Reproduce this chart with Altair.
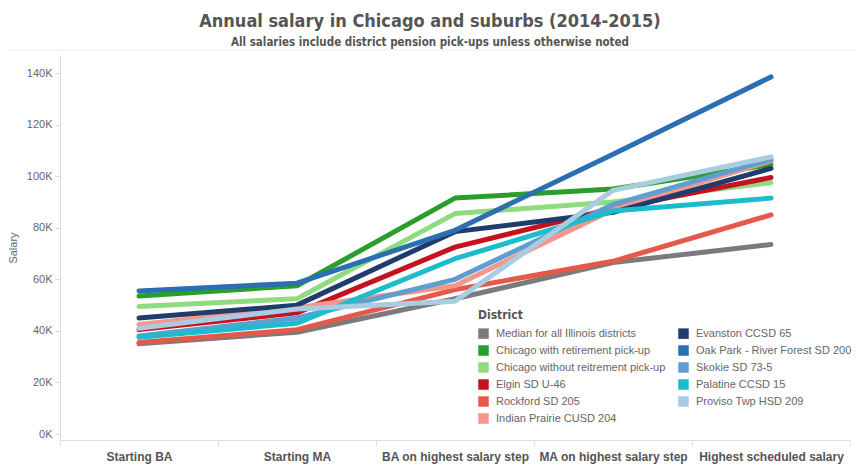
import altair as alt
import pandas as pd

stages = ["Starting BA", "Starting MA", "BA on highest salary step",
          "MA on highest salary step", "Highest scheduled salary"]

# values in thousands of dollars
median_all = [35.0, 39.5, 52.5, 66.5, 73.5]
chicago_with = [53.5, 57.5, 91.5, 95.0, 104.5]
chicago_without = [49.5, 52.5, 85.5, 90.0, 97.5]
elgin = [40.5, 47.0, 72.5, 87.5, 99.5]
rockford = [35.5, 40.5, 56.0, 67.0, 85.0]
indian_prairie = [42.5, 49.0, 57.5, 87.0, 106.0]
evanston = [45.0, 50.0, 78.5, 86.0, 103.0]
oak_park = [55.5, 58.5, 79.0, 108.5, 138.5]
skokie = [38.0, 45.0, 60.0, 89.0, 106.5]
palatine = [37.5, 43.0, 68.0, 86.5, 91.5]
proviso = [41.0, 48.5, 51.5, 94.5, 107.5]

districts = ["Median for all Illinois districts", "Chicago with retirement pick-up",
             "Chicago without reitrement pick-up", "Elgin SD U-46", "Rockford SD 205",
             "Indian Prairie CUSD 204", "Evanston CCSD 65", "Oak Park - River Forest SD 200",
             "Skokie SD 73-5", "Palatine CCSD 15", "Proviso Twp HSD 209"]
series = [median_all, chicago_with, chicago_without, elgin, rockford, indian_prairie,
          evanston, oak_park, skokie, palatine, proviso]
colors = ["#7b7b7b", "#2a9d2a", "#8fdc80", "#c5121f", "#e5594b", "#f5968a",
          "#1f3c6c", "#2a6fb2", "#5e9fcf", "#1bbccc", "#a8cde0"]

rows = []
for name, vals in zip(districts, series):
    for s, v in zip(stages, vals):
        rows.append({"District": name, "Stage": s, "Salary": v * 1000})
df = pd.DataFrame(rows)

x_enc = alt.X("Stage:N", sort=stages, bandPosition=0.5,
              scale=alt.Scale(type="band", paddingInner=0, paddingOuter=0),
              axis=alt.Axis(title=None, labelAngle=0, tickBand="extent", tickSize=5,
                            tickColor="#dddddd", domainColor="#dddddd",
                            labelFont="Liberation Sans Narrow, Liberation Sans",
                            labelFontSize=12, labelFontWeight="bold", labelColor="#555555",
                            labelPadding=6))
y_enc = alt.Y("Salary:Q",
              scale=alt.Scale(domain=[-2300, 147000], nice=False, zero=False),
              axis=alt.Axis(values=list(range(0, 140001, 20000)),
                            labelExpr="datum.value / 1000 + 'K'", grid=False,
                            title="Salary", titleFontWeight="normal", titleFontSize=11,
                            titleColor="#666666", titleFont="Liberation Sans",
                            labelFont="Liberation Sans", labelFontSize=11,
                            labelColor="#666666", tickColor="#dddddd", domainColor="#dddddd",
                            tickSize=5, labelPadding=3, titlePadding=8))
color_enc = alt.Color("District:N",
                      scale=alt.Scale(domain=districts, range=colors),
                      legend=alt.Legend(orient="none", legendX=418, legendY=255, columns=2,
                                        symbolType="square", symbolSize=110,
                                        symbolStrokeWidth=0, symbolOpacity=1,
                                        labelFont="Liberation Sans", labelFontSize=11,
                                        labelColor="#666666", labelLimit=300,
                                        titleFont="DejaVu Sans Condensed", titleFontSize=12,
                                        titleColor="#555555", titleFontWeight="bold",
                                        rowPadding=5, columnPadding=12, labelOffset=7,
                                        titlePadding=6))

lines = alt.Chart(df).mark_line(strokeWidth=5, strokeCap="round", strokeJoin="round").encode(
    x=x_enc, y=y_enc, color=color_enc, detail="District:N",
)

# invisible filled points so that the legend shows filled squares
pts = alt.Chart(df).mark_point(filled=True, opacity=0, size=1).encode(
    x=x_enc, y=y_enc, color=color_enc,
)

sep = alt.Chart(pd.DataFrame({"a": [0]})).mark_rule(color="#eeeeee", strokeWidth=1).encode(
    x=alt.value(-60), x2=alt.value(802), y=alt.value(-5)
)

chart = alt.layer(sep, lines, pts).properties(
    width=790, height=385,
    autosize=alt.AutoSizeParams(type="none"),
    padding={"left": 52, "top": 47, "right": 4, "bottom": 25},
    title=alt.TitleParams(
        text="Annual salary in Chicago and suburbs (2014-2015)",
        subtitle="All salaries include district pension pick-ups unless otherwise noted",
        anchor="middle", dx=-25, offset=1,
        font="DejaVu Sans Condensed", fontSize=18, fontWeight="bold", color="#555555",
        subtitleFont="DejaVu Sans Condensed", subtitleFontSize=11.5,
        subtitleFontWeight="bold", subtitleColor="#555555", subtitlePadding=6,
    ),
).configure_view(stroke=None)

chart.save("out.html", embed_options={"renderer": "svg", "actions": False})
